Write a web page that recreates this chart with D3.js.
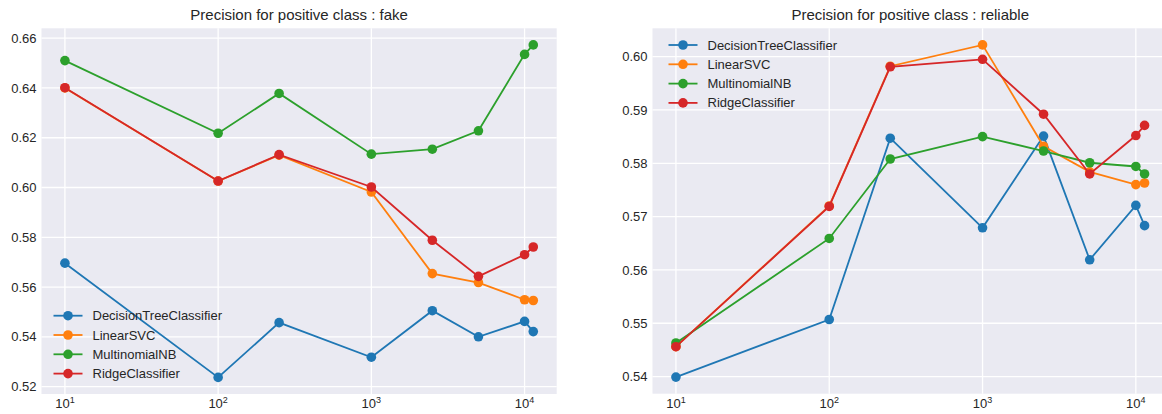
<!DOCTYPE html>
<meta charset='utf-8'>
<style>
    html, body {
        margin: 0;
        background: white;
    }

    svg text {
        font-family: 'Liberation Sans', Arial, sans-serif;
        fill: #262626;
    }

    .tick text {
        font-size: 13px;
    }

    .title {
        font-size: 15px;
    }

    .legend text {
        font-size: 13px;
    }
</style>
<title>Precision for positive class</title>
<body>

<script src='https://cdn.jsdelivr.net/npm/d3@7/dist/d3.min.js'></script>
<script>

	// number of features used (x axis, log scale)
	let features = [10, 100, 250, 1000, 2500, 5000, 10000, 11400];

	let models = ['DecisionTreeClassifier', 'LinearSVC', 'MultinomialNB', 'RidgeClassifier'];
	let colors = ['#1f77b4', '#ff7f0e', '#2ca02c', '#d62728'];

	// precision, positive class = fake
	let fakeTree   = [0.5696, 0.5237, 0.5457, 0.5318, 0.5505, 0.5400, 0.5462, 0.5421];
	let fakeSVC    = [0.6400, 0.6026, 0.6130, 0.5982, 0.5654, 0.5618, 0.5549, 0.5546];
	let fakeNB     = [0.6510, 0.6218, 0.6378, 0.6134, 0.6154, 0.6228, 0.6535, 0.6573];
	let fakeRidge  = [0.6401, 0.6026, 0.6132, 0.6002, 0.5788, 0.5643, 0.5730, 0.5761];

	// precision, positive class = reliable
	let relTree    = [0.5399, 0.5507, 0.5847, 0.5679, 0.5851, 0.5619, 0.5721, 0.5683];
	let relSVC     = [0.5456, 0.5720, 0.5982, 0.6022, 0.5832, 0.5784, 0.5760, 0.5763];
	let relNB      = [0.5463, 0.5659, 0.5808, 0.5850, 0.5823, 0.5801, 0.5794, 0.5780];
	let relRidge   = [0.5456, 0.5719, 0.5981, 0.5995, 0.5892, 0.5780, 0.5852, 0.5871];

	let fakeTicks = [0.52, 0.54, 0.56, 0.58, 0.60, 0.62, 0.64, 0.66];
	let relTicks  = [0.54, 0.55, 0.56, 0.57, 0.58, 0.59, 0.60];
	let xTicks    = [1, 2, 3, 4];

	let W = 1162, H = 414;

	let svg = d3.select('body').append('svg')
		.attr('width', W)
		.attr('height', H);

	// matplotlib style 5% margins
	function padded(lo, hi) {
		let m = (hi - lo) * 0.05;
		return [lo - m, hi + m];
	}

	function drawPanel(cfg) {
		let lx = padded(Math.log10(d3.min(features)), Math.log10(d3.max(features)));
		let x = d3.scaleLog()
			.domain([Math.pow(10, lx[0]), Math.pow(10, lx[1])])
			.range([cfg.left, cfg.right]);

		let all = d3.merge(cfg.series);
		let y = d3.scaleLinear()
			.domain(padded(d3.min(all), d3.max(all)))
			.range([cfg.bottom, cfg.top]);

		let g = svg.append('g');

		g.append('rect')
			.attr('x', cfg.left)
			.attr('y', cfg.top)
			.attr('width', cfg.right - cfg.left)
			.attr('height', cfg.bottom - cfg.top)
			.attr('fill', '#eaeaf2');

		// grid
		g.selectAll('.hgrid')
			.data(cfg.yTicks)
			.enter().append('line')
			.attr('x1', cfg.left)
			.attr('x2', cfg.right)
			.attr('y1', function (d) { return y(d); })
			.attr('y2', function (d) { return y(d); })
			.attr('stroke', 'white')
			.attr('stroke-width', 1.3);

		g.selectAll('.vgrid')
			.data(xTicks)
			.enter().append('line')
			.attr('x1', function (d) { return x(Math.pow(10, d)); })
			.attr('x2', function (d) { return x(Math.pow(10, d)); })
			.attr('y1', cfg.top)
			.attr('y2', cfg.bottom)
			.attr('stroke', 'white')
			.attr('stroke-width', 1.3);

		// y axis labels
		let yAxis = g.append('g')
			.attr('transform', 'translate(' + cfg.left + ',0)')
			.call(d3.axisLeft(y).tickValues(cfg.yTicks).tickSize(0).tickPadding(5)
				.tickFormat(cfg.yFormat));
		yAxis.select('.domain').remove();

		// x axis labels with superscript exponents
		let xl = g.selectAll('.xlab')
			.data(xTicks)
			.enter().append('text')
			.attr('class', 'tick')
			.attr('x', function (d) { return x(Math.pow(10, d)); })
			.attr('y', cfg.bottom + 14)
			.attr('text-anchor', 'middle')
			.style('font-size', '13px');
		xl.append('tspan').text('10');
		xl.append('tspan')
			.attr('dy', -5)
			.style('font-size', '9px')
			.text(function (d) { return d; });

		g.append('text')
			.attr('class', 'title')
			.attr('x', (cfg.left + cfg.right) / 2)
			.attr('y', 20)
			.attr('text-anchor', 'middle')
			.text(cfg.title);

		let line = d3.line()
			.x(function (d, i) { return x(features[i]); })
			.y(function (d) { return y(d); });

		cfg.series.forEach(function (s, k) {
			g.append('path')
				.datum(s)
				.attr('d', line)
				.attr('fill', 'none')
				.attr('stroke', colors[k])
				.attr('stroke-width', 1.8);
			g.selectAll('.pt' + k)
				.data(s)
				.enter().append('circle')
				.attr('cx', function (d, i) { return x(features[i]); })
				.attr('cy', function (d) { return y(d); })
				.attr('r', 4.8)
				.attr('fill', colors[k]);
		});

		// legend
		let leg = g.append('g').attr('class', 'legend');
		models.forEach(function (m, k) {
			let ly = cfg.legY + k * 19.3;
			leg.append('line')
				.attr('x1', cfg.legX)
				.attr('x2', cfg.legX + 29)
				.attr('y1', ly)
				.attr('y2', ly)
				.attr('stroke', colors[k])
				.attr('stroke-width', 1.8);
			leg.append('circle')
				.attr('cx', cfg.legX + 14.5)
				.attr('cy', ly)
				.attr('r', 4.8)
				.attr('fill', colors[k]);
			leg.append('text')
				.attr('x', cfg.legX + 39)
				.attr('y', ly)
				.attr('dy', '0.35em')
				.text(m);
		});
	}

	drawPanel({
		title: 'Precision for positive class : fake',
		left: 41.5, right: 556.7, top: 28.3, bottom: 394,
		series: [fakeTree, fakeSVC, fakeNB, fakeRidge],
		yTicks: fakeTicks,
		yFormat: d3.format('.2f'),
		legX: 53.5, legY: 315.7
	});

	drawPanel({
		title: 'Precision for positive class : reliable',
		left: 652.5, right: 1168, top: 28.3, bottom: 393.7,
		series: [relTree, relSVC, relNB, relRidge],
		yTicks: relTicks,
		yFormat: d3.format('.2f'),
		legX: 668.5, legY: 45
	});

</script>
</body>
